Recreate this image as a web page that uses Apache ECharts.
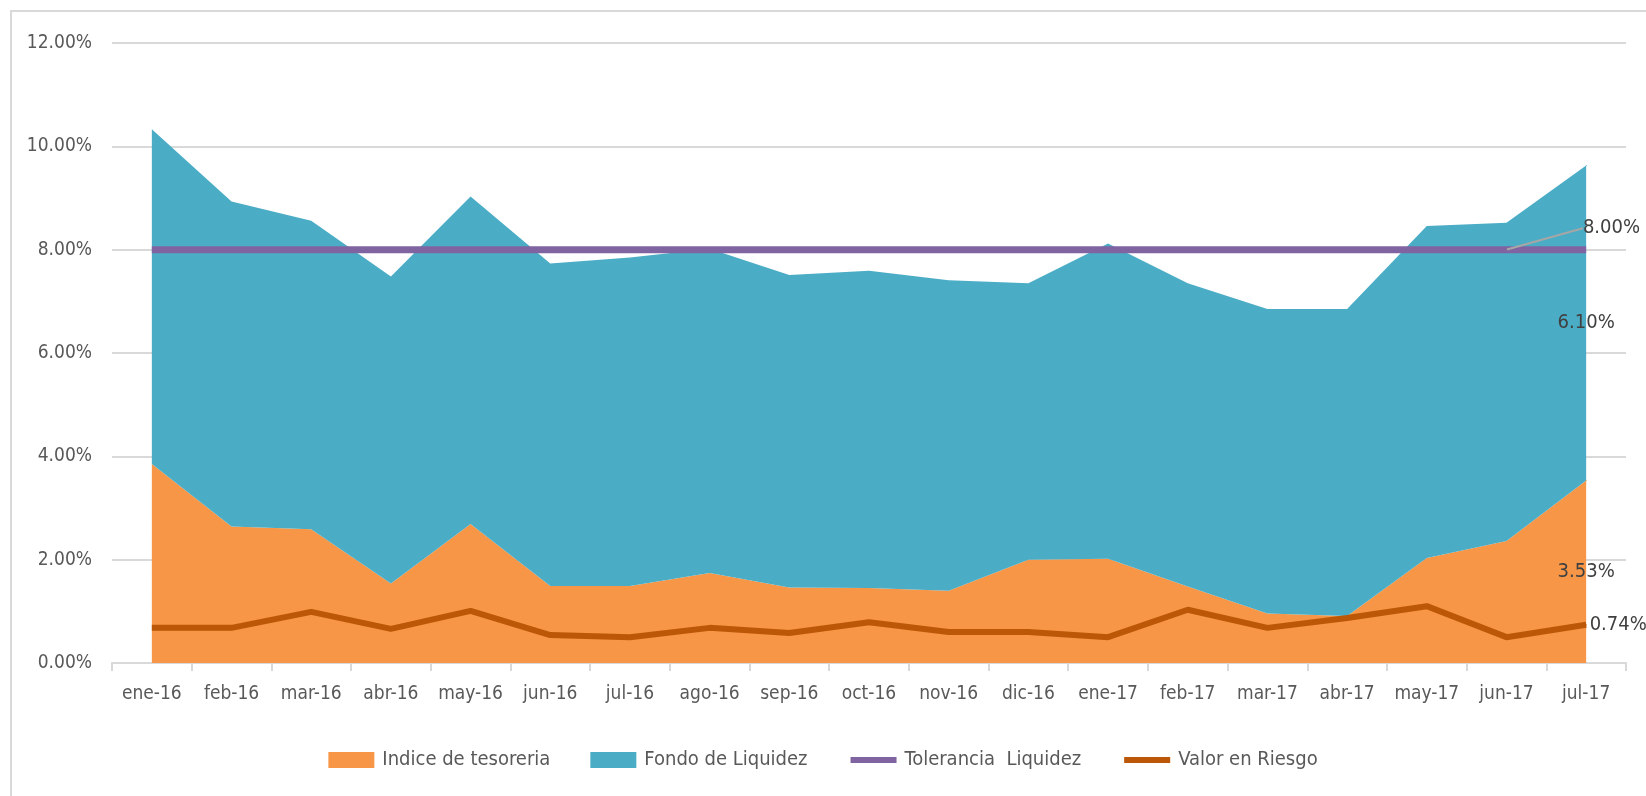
<!DOCTYPE html>
<html>
<head>
<meta charset="utf-8">
<script src="https://cdn.jsdelivr.net/npm/echarts@6/dist/echarts.min.js"></script>
<style>
html, body { margin: 0; padding: 0; background: #fff; }
#chart { width: 1646px; height: 796px; }
</style>
</head>
<body>
<div id="chart"></div>
<script>
var categories = [ "ene-16", "feb-16", "mar-16", "abr-16", "may-16", "jun-16", "jul-16",
		"ago-16", "sep-16", "oct-16", "nov-16", "dic-16", "ene-17", "feb-17", "mar-17",
		"abr-17", "may-17", "jun-17", "jul-17" ];
var indiceTesoreria = [ 3.85, 2.64, 2.59, 1.54, 2.69, 1.49, 1.49, 1.74, 1.46, 1.45,
		1.40, 2.00, 2.02, 1.48, 0.96, 0.91, 2.03, 2.36, 3.53 ];
var fondoLiquidez = [ 6.48, 6.29, 5.97, 5.94, 6.34, 6.24, 6.36, 6.28, 6.05, 6.14,
		6.01, 5.35, 6.10, 5.87, 5.89, 5.94, 6.43, 6.16, 6.10 ];
var toleranciaLiquidez = [ 8, 8, 8, 8, 8, 8, 8, 8, 8, 8, 8, 8, 8, 8, 8, 8, 8, 8, 8 ];
var valorRiesgo = [ 0.68, 0.68, 0.99, 0.66, 1.01, 0.54, 0.50, 0.68, 0.58, 0.79,
		0.60, 0.60, 0.50, 1.03, 0.68, 0.87, 1.10, 0.50, 0.74 ];
var yTicks = [ 0, 2, 4, 6, 8, 10, 12 ];

var fontFamily = "'Liberation Sans Narrow', 'DejaVu Sans Condensed', 'Liberation Sans', sans-serif";
var myChart = echarts.init(document.getElementById("chart"));
var last = categories.length - 1;

function pct(v) {
	return v.toFixed(2) + "%";
}

// only the last point gets a (tiny) symbol and a label
function withLastLabel(values, label) {
	return values.map(function(v, i) {
		if (i != last) return v;
		return { value : v, symbol : "circle", symbolSize : 1, label : label };
	});
}

function buildOption(offTes, offFondo) {
	return {
		animation : false,
		textStyle : { fontFamily : fontFamily },
		color : [ "#f79646", "#4bacc6", "#8064a2", "#bb5706" ],
		graphic : [ {
			type : "rect",
			shape : { x : 11, y : 11, width : 1700, height : 900 },
			style : { fill : "none", stroke : "#d9d9d9", lineWidth : 2 },
			silent : true
		} ],
		grid : { left : 112, right : 20, top : 43, bottom : 133 },
		legend : {
			left : "center",
			top : 745,
			itemWidth : 46,
			itemHeight : 16,
			itemGap : 40,
			textStyle : { fontSize : 20, color : "#595959", fontFamily : fontFamily, padding : [ 0, 0, 0, 3 ] },
			data : [ { name : "Indice de tesoreria", icon : "rect" },
					{ name : "Fondo de Liquidez", icon : "rect" },
					{ name : "Tolerancia  Liquidez", lineStyle : { width : 6 }, itemStyle : { opacity : 0 } },
					{ name : "Valor en Riesgo", lineStyle : { width : 6 }, itemStyle : { opacity : 0 } } ]
		},
		xAxis : {
			type : "category",
			boundaryGap : true,
			data : categories,
			axisLine : { lineStyle : { color : "#d9d9d9", width : 2 } },
			axisTick : { show : true, length : 8, lineStyle : { color : "#d9d9d9", width : 2 } },
			axisLabel : { fontSize : 19, color : "#595959", margin : 22, interval : 0 }
		},
		yAxis : {
			type : "value",
			min : yTicks[0],
			max : yTicks[yTicks.length - 1],
			interval : 2,
			axisLine : { show : false },
			axisTick : { show : false },
			splitLine : { lineStyle : { color : "#d9d9d9", width : 2 } },
			axisLabel : {
				fontSize : 19,
				color : "#595959",
				margin : 20,
				formatter : function(v) { return pct(v); }
			}
		},
		series : [ {
			name : "Indice de tesoreria",
			type : "line",
			stack : "total",
			symbol : "none",
			lineStyle : { width : 0 },
			areaStyle : { color : "#f79646", opacity : 1 },
			data : withLastLabel(indiceTesoreria, {
				show : true, position : "inside", offset : [ 0, offTes ],
				fontSize : 20, color : "#404040",
				formatter : function() { return pct(indiceTesoreria[last]); }
			})
		}, {
			name : "Fondo de Liquidez",
			type : "line",
			stack : "total",
			symbol : "none",
			lineStyle : { width : 0 },
			areaStyle : { color : "#4bacc6", opacity : 1 },
			data : withLastLabel(fondoLiquidez, {
				show : true, position : "inside", offset : [ 0, offFondo ],
				fontSize : 20, color : "#404040",
				formatter : function() { return pct(fondoLiquidez[last]); }
			})
		}, {
			name : "Tolerancia  Liquidez",
			type : "line",
			symbol : "none",
			lineStyle : { width : 7, color : "#8064a2" },
			labelLine : { show : true, lineStyle : { color : "#a6a6a6", width : 2 } },
			labelLayout : { dx : 105, dy : -6 },
			data : toleranciaLiquidez.map(function(v, i) {
				if (i != last - 1) return v;
				return {
					value : v, symbol : "circle", symbolSize : 1,
					label : { show : true, position : "top", fontSize : 20, color : "#404040",
						formatter : function(p) { return pct(p.value); } }
				};
			})
		}, {
			name : "Valor en Riesgo",
			type : "line",
			symbol : "none",
			lineStyle : { width : 6, color : "#bb5706" },
			data : withLastLabel(valorRiesgo, {
				show : true, position : "right", distance : 3,
				fontSize : 20, color : "#404040",
				formatter : function() { return pct(valorRiesgo[last]); }
			})
		} ]
	};
}

myChart.setOption(buildOption(0, 0));

// centre the area labels inside their band at the last category
var yBase = myChart.convertToPixel({ gridIndex : 0 }, [ last, 0 ])[1];
var yTes = myChart.convertToPixel({ gridIndex : 0 }, [ last, indiceTesoreria[last] ])[1];
var yTot = myChart.convertToPixel({ gridIndex : 0 }, [ last, indiceTesoreria[last] + fondoLiquidez[last] ])[1];
myChart.setOption(buildOption((yBase - yTes) / 2, (yTes - yTot) / 2), true);
</script>
</body>
</html>
